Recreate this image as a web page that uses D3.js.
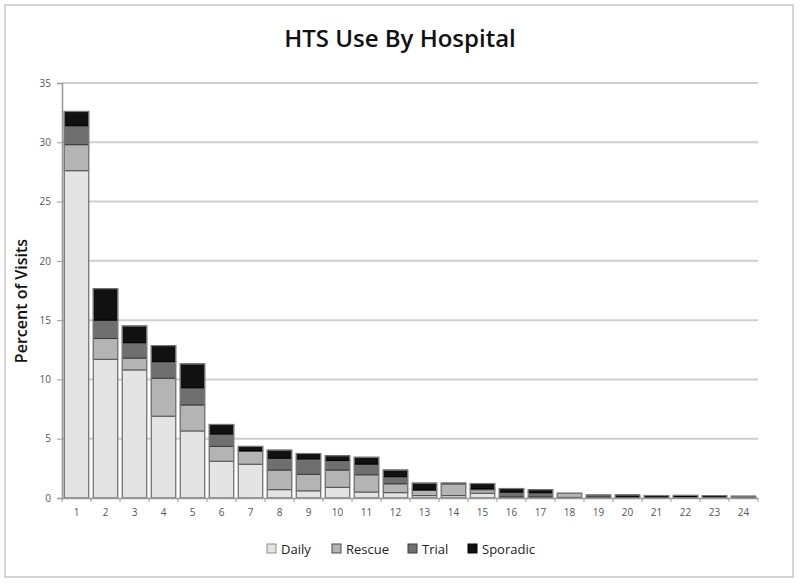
<!DOCTYPE html>
<html><head><meta charset="utf-8">
<script src="https://cdn.jsdelivr.net/npm/d3@7"></script>
<style>body{margin:0;background:#fff;}svg{display:block;}</style>
</head><body>
<svg id="c" width="800" height="584"></svg>
<script>
const categories = ["1","2","3","4","5","6","7","8","9","10","11","12","13","14","15","16","17","18","19","20","21","22","23","24"];
const seriesNames = ["Daily","Rescue","Trial","Sporadic"];
const daily    = [27.6,11.7,10.8,6.9,5.65,3.1,2.85,0.7,0.6,0.9,0.5,0.45,0.2,0.2,0.4,0.0,0.0,0.05,0.0,0.0,0.0,0.0,0.0,0.05];
const rescue   = [2.2,1.75,1.0,3.2,2.2,1.25,1.1,1.66,1.4,1.46,1.46,0.75,0.45,1.0,0.3,0.1,0.1,0.35,0.1,0.0,0.0,0.0,0.0,0.1];
const trial    = [1.6,1.55,1.3,1.4,1.45,1.05,0.05,1.0,1.3,0.8,0.9,0.6,0.05,0.0,0.1,0.4,0.35,0.0,0.15,0.1,0.08,0.12,0.12,0.0];
const sporadic = [1.2,2.65,1.4,1.35,2.0,0.8,0.35,0.67,0.45,0.4,0.57,0.55,0.55,0.05,0.42,0.3,0.25,0.0,0.0,0.15,0.13,0.1,0.08,0.0];
const yTicks = [0,5,10,15,20,25,30,35];
const fills = ["#e4e4e4","#b4b4b4","#6f6f6f","#111111"];
const strokes = ["#8c8c8c","#4a4a4a","#3a3a3a","#000000"];

const rows = categories.map((c,i)=>({cat:c, Daily:daily[i], Rescue:rescue[i], Trial:trial[i], Sporadic:sporadic[i]}));
const stack = d3.stack().keys(seriesNames)(rows);

const svg = d3.select("#c");
const font = "'Open Sans', 'Noto Sans', sans-serif";
svg.append("rect").attr("x",5).attr("y",5).attr("width",788).attr("height",572)
  .attr("fill","#fff").attr("stroke","#c8c8c8").attr("stroke-width",1.5);

const L=62, R=758, T=83, B=498;
const x = d3.scaleBand().domain(categories).range([L,R]).paddingInner(0.16).paddingOuter(0.08);
const y = d3.scaleLinear().domain([0,35]).range([B,T]);

svg.append("g").selectAll("line").data(yTicks.filter(t=>t>0)).join("line")
  .attr("x1",L).attr("x2",R).attr("y1",d=>y(d)).attr("y2",d=>y(d))
  .attr("stroke","#cfcfcf").attr("stroke-width",2);

const ya = svg.append("g").attr("transform",`translate(${L},0)`)
  .call(d3.axisLeft(y).tickValues(yTicks).tickSize(5).tickPadding(6));
ya.select(".domain").attr("stroke","#999").attr("stroke-width",1.5);
ya.selectAll(".tick line").attr("stroke","#999");
ya.selectAll("text").attr("font-family",font).attr("font-size",10).attr("fill","#555");

svg.append("g").selectAll("g").data(stack).join("g")
  .each(function(s,si){
    d3.select(this).selectAll("rect").data(s.filter(d=>d[1]-d[0]>0)).join("rect")
      .attr("x",d=>x(d.data.cat)).attr("width",x.bandwidth())
      .attr("y",d=>y(d[1])).attr("height",d=>y(d[0])-y(d[1]))
      .attr("fill",fills[si]).attr("stroke",strokes[si]).attr("stroke-width",1);
  });

svg.append("g").selectAll("rect").data(rows).join("rect")
  .attr("x",d=>x(d.cat)).attr("width",x.bandwidth())
  .attr("y",d=>y(d.Daily+d.Rescue+d.Trial+d.Sporadic))
  .attr("height",d=>B-y(d.Daily+d.Rescue+d.Trial+d.Sporadic))
  .attr("fill","none").attr("stroke","#7a7a7a").attr("stroke-width",1.2);

const xa = svg.append("g").attr("transform",`translate(0,${B})`)
  .call(d3.axisBottom(x).tickSize(0).tickPadding(11));
xa.select(".domain").attr("stroke","#999").attr("stroke-width",1.5);
xa.selectAll("text").attr("font-family",font).attr("font-size",10).attr("fill","#555");
svg.append("g").selectAll("line").data(categories.concat(["end"])).join("line")
  .attr("x1",(d,i)=> i<categories.length ? x(d)-x.step()*x.paddingInner()/2 : R)
  .attr("x2",(d,i)=> i<categories.length ? x(d)-x.step()*x.paddingInner()/2 : R)
  .attr("y1",B).attr("y2",B+4).attr("stroke","#999");

svg.append("text").attr("x",400).attr("y",47).attr("text-anchor","middle")
  .attr("font-family",font).attr("font-weight",600).attr("font-size",24).attr("fill","#111")
  .text("HTS Use By Hospital");
svg.append("text").attr("transform","translate(27,301) rotate(-90)").attr("text-anchor","middle")
  .attr("font-family",font).attr("font-weight",600).attr("font-size",16).attr("fill","#111")
  .text("Percent of Visits");

const legX = [267,332,408,468];
const lg = svg.append("g").selectAll("g").data(seriesNames).join("g")
  .attr("transform",(d,i)=>`translate(${legX[i]},544)`);
lg.append("rect").attr("width",9).attr("height",9)
  .attr("fill",(d,i)=>fills[i]).attr("stroke",(d,i)=>strokes[i]);
lg.append("text").attr("x",14).attr("y",10).attr("font-family",font).attr("font-size",13).attr("fill","#222")
  .text(d=>d);
</script>
</body></html>
